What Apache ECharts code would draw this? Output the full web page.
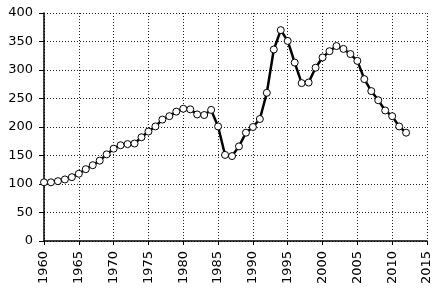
<!DOCTYPE html>
<html>
<head>
<meta charset="utf-8">
<script src="https://cdn.jsdelivr.net/npm/echarts@6/dist/echarts.min.js"></script>
<style>
html,body{margin:0;padding:0;background:#fff;}
#c{width:439px;height:289px;}
</style>
</head>
<body>
<div id="c"></div>
<script>
const years = [1960,1961,1962,1963,1964,1965,1966,1967,1968,1969,
  1970,1971,1972,1973,1974,1975,1976,1977,1978,1979,
  1980,1981,1982,1983,1984,1985,1986,1987,1988,1989,
  1990,1991,1992,1993,1994,1995,1996,1997,1998,1999,
  2000,2001,2002,2003,2004,2005,2006,2007,2008,2009,
  2010,2011,2012];
const values = [103,103,105,108,112,118,126,133,141,152,
  162,168,170,171,182,192,201,213,219,227,
  232,231,222,221,230,201,151,149,166,190,
  200,214,260,336,370,351,313,277,278,304,
  322,333,342,337,328,316,284,263,247,229,
  219,201,190];
const xTicks = {min:1960, max:2015, step:5};
const yTicks = {min:0, max:400, step:50};

const chart = echarts.init(document.getElementById('c'), null, {renderer:'canvas'});
const font = {fontFamily:'DejaVu Sans', fontSize:13, color:'#000'};
chart.setOption({
  animation:false,
  backgroundColor:'#fff',
  grid:{left:44, right:12, top:13, bottom:48, containLabel:false},
  xAxis:{
    type:'value', min:xTicks.min, max:xTicks.max, interval:xTicks.step,
    axisLine:{show:true, onZero:false, lineStyle:{color:'#000', width:1.5}},
    axisTick:{show:true, length:4, lineStyle:{color:'#000'}},
    axisLabel:Object.assign({rotate:90, margin:10, formatter:v=>String(v)}, font),
    splitLine:{show:true, lineStyle:{type:[1,2], color:'#222', width:1}}
  },
  yAxis:{
    type:'value', min:yTicks.min, max:yTicks.max, interval:yTicks.step,
    axisLine:{show:true, lineStyle:{color:'#000', width:1.5}},
    axisTick:{show:true, length:5, lineStyle:{color:'#000'}},
    axisLabel:Object.assign({margin:11}, font),
    splitLine:{show:true, lineStyle:{type:[1,2], color:'#222', width:1}}
  },
  series:[{
    type:'line',
    data:years.map((y,i)=>[y, values[i]]),
    symbol:'circle', symbolSize:7, showAllSymbol:true,
    lineStyle:{color:'#000', width:2.5},
    itemStyle:{color:'#fff', borderColor:'#000', borderWidth:1},
    z:5
  }]
});
</script>
</body>
</html>
